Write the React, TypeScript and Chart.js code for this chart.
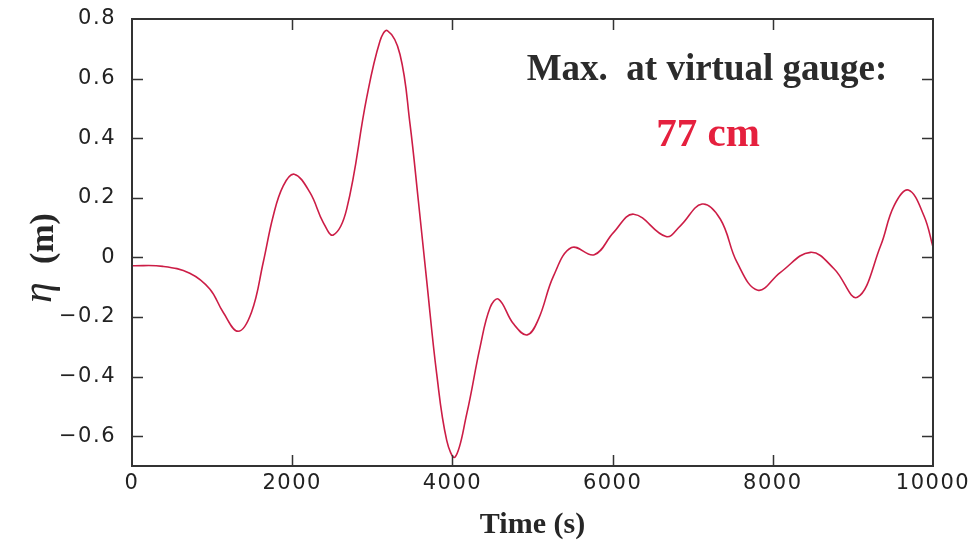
import React, { useEffect, useRef } from "react";
import { Chart, registerables } from "chart.js";

Chart.register(...registerables);

// time (s)
const times = [
  0, 384, 721, 971, 1138, 1325, 1492, 1638, 1763, 1888, 2025, 2221, 2388, 2513,
  2680, 2930, 3096, 3188, 3346, 3471, 3575, 3679, 3804, 3929, 4034, 4179,
  4346, 4471, 4575, 4762, 4934, 5075, 5263, 5488, 5771, 6013, 6263, 6667, 6846,
  7117, 7346, 7554, 7813, 8096, 8471, 8767, 9055, 9346, 9513, 9692, 9888, 10000,
];
// surface elevation eta (m)
const eta = [
  -0.028, -0.03, -0.053, -0.106, -0.184, -0.248, -0.184, -0.017, 0.139, 0.24,
  0.279, 0.218, 0.117, 0.075, 0.162, 0.536, 0.726, 0.761, 0.681, 0.447,
  0.19, -0.078, -0.391, -0.614, -0.67, -0.525, -0.3, -0.168, -0.14, -0.223, -0.26,
  -0.207, -0.062, 0.033, 0.009, 0.084, 0.145, 0.07, 0.106, 0.179, 0.128, -0.017,
  -0.11, -0.05, 0.017, -0.039, -0.134, 0.039, 0.173, 0.226, 0.139, 0.035,
];

const xTicks = [0, 2000, 4000, 6000, 8000, 10000];
const yTicks = [-0.6, -0.4, -0.2, 0, 0.2, 0.4, 0.6, 0.8];

const xTitle = "Time (s)";
const yTitleSymbol = "η";
const yTitleUnit = "(m)";
const noteLine1 = "Max.  at virtual gauge:";
const noteLine2 = "77 cm";

const AXIS_COLOR = "#333333";
const LINE_COLOR = "#cc1d46";

const framePlugin = {
  id: "framePlugin",
  beforeDraw(chart: any) {
    chart.ctx.letterSpacing = "1.5px";
  },
  afterDraw(chart: any) {
    const { ctx, chartArea } = chart;
    const { left, right, top, bottom } = chartArea;
    const xs = chart.scales.x;
    const ys = chart.scales.y;
    ctx.save();
    ctx.letterSpacing = "0px";
    ctx.strokeStyle = AXIS_COLOR;
    ctx.lineWidth = 2;
    ctx.strokeRect(left, top, right - left, bottom - top);
    ctx.lineWidth = 1.5;
    const tl = 11;
    ctx.beginPath();
    xTicks.forEach((v) => {
      if (v <= 0 || v >= 10000) return;
      const px = Math.round(xs.getPixelForValue(v)) + 0.5;
      ctx.moveTo(px, bottom);
      ctx.lineTo(px, bottom - tl);
      ctx.moveTo(px, top);
      ctx.lineTo(px, top + tl);
    });
    yTicks.forEach((v) => {
      if (v >= 0.8) return;
      const py = Math.round(ys.getPixelForValue(v)) + 0.5;
      ctx.moveTo(left, py);
      ctx.lineTo(left + tl, py);
      ctx.moveTo(right, py);
      ctx.lineTo(right - tl, py);
    });
    ctx.stroke();

    // x title
    ctx.fillStyle = "#262626";
    ctx.font = "bold 30px 'Liberation Serif'";
    ctx.textAlign = "center";
    ctx.textBaseline = "alphabetic";
    ctx.fillText(xTitle, (left + right) / 2, 533);

    // y title (rotated)
    ctx.save();
    ctx.translate(53, 258);
    ctx.rotate(-Math.PI / 2);
    ctx.textAlign = "left";
    ctx.font = "italic 42px 'Liberation Serif'";
    const w1 = ctx.measureText(yTitleSymbol).width;
    ctx.font = "bold 34px 'Liberation Serif'";
    const w2 = ctx.measureText(yTitleUnit).width;
    const gap = 18;
    const total = w1 + gap + w2;
    ctx.font = "italic 42px 'Liberation Serif'";
    ctx.fillText(yTitleSymbol, -total / 2, -2);
    ctx.font = "bold 34px 'Liberation Serif'";
    ctx.fillText(yTitleUnit, -total / 2 + w1 + gap, 0);
    ctx.restore();

    // annotation
    ctx.textAlign = "center";
    ctx.fillStyle = "#2b2b2b";
    ctx.font = "bold 37px 'Liberation Serif'";
    ctx.fillText(noteLine1, 707, 80);
    ctx.fillStyle = "#e5203e";
    ctx.font = "bold 41px 'Liberation Serif'";
    ctx.fillText(noteLine2, 708, 146);
    ctx.restore();
  },
};

function fmtY(v: number): string {
  if (Math.abs(v) < 1e-9) return "0";
  const s = Math.abs(v).toFixed(1);
  return v < 0 ? "\u2212" + s : s;
}

export default function App() {
  const ref = useRef<HTMLCanvasElement | null>(null);
  useEffect(() => {
    if (!ref.current) return;
    const chart = new Chart(ref.current, {
      type: "line",
      data: {
        datasets: [
          {
            data: times.map((t, i) => ({ x: t, y: eta[i] })),
            borderColor: LINE_COLOR,
            borderWidth: 1.6,
            pointRadius: 0,
            fill: false,
            tension: 0.4,
          },
        ],
      },
      options: {
        animation: false,
        responsive: false,
        layout: { padding: { top: 19, right: 43, left: 0, bottom: 0 } },
        plugins: { legend: { display: false }, tooltip: { enabled: false } },
        scales: {
          x: {
            type: "linear",
            min: 0,
            max: 10000,
            afterBuildTicks: (s: any) => {
              s.ticks = xTicks.map((v) => ({ value: v }));
            },
            afterFit: (s: any) => {
              s.height = 78;
              s.paddingLeft = 0;
              s.paddingRight = 0;
            },
            grid: { display: false, drawTicks: false },
            border: { display: false },
            ticks: {
              padding: 5,
              color: "#222",
              font: { family: "'DejaVu Sans'", size: 21 },
              maxRotation: 0,
              callback: (v: any) => String(v),
            },
          },
          y: {
            type: "linear",
            min: -0.7,
            max: 0.8,
            afterBuildTicks: (s: any) => {
              s.ticks = yTicks.map((v) => ({ value: v }));
            },
            afterFit: (s: any) => {
              s.width = 132;
              s.paddingTop = 0;
              s.paddingBottom = 0;
            },
            grid: { display: false, drawTicks: false },
            border: { display: false },
            ticks: {
              padding: 16,
              color: "#222",
              font: { family: "'DejaVu Sans'", size: 21 },
              callback: (v: any) => fmtY(Number(v)),
            },
          },
        },
      },
      plugins: [framePlugin],
    });
    return () => chart.destroy();
  }, []);
  return (
    <div style={{ position: "fixed", left: 0, top: 0, width: 976, height: 544, background: "#fff" }}>
      <canvas ref={ref} width={976} height={544} />
    </div>
  );
}
